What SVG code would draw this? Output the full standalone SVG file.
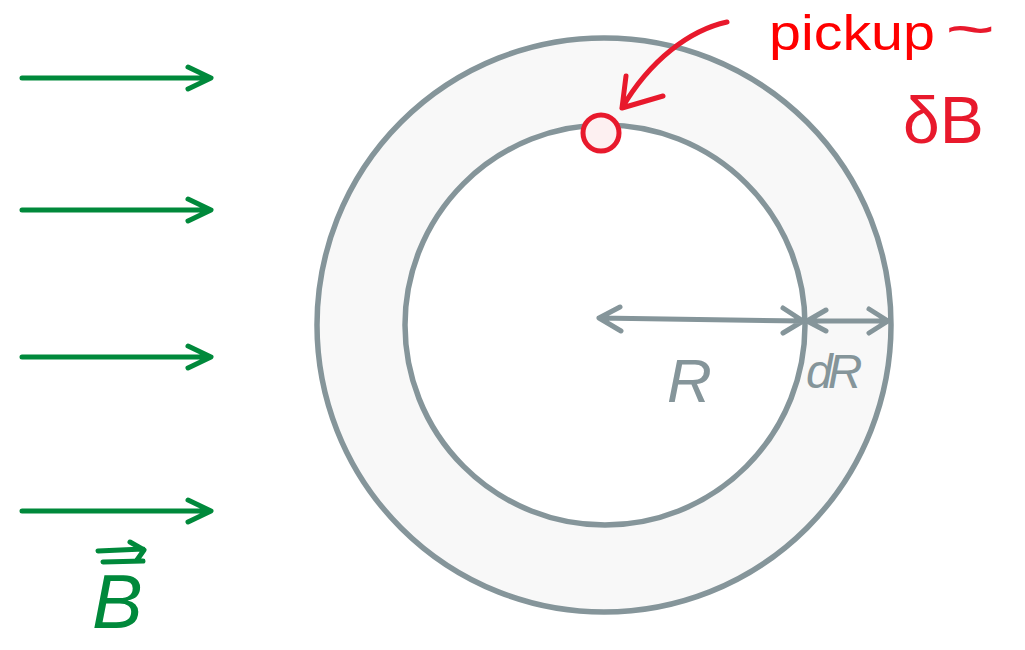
<svg xmlns="http://www.w3.org/2000/svg" width="1025" height="650" viewBox="0 0 1025 650">
<style>
.ring{stroke:#85959a;stroke-width:5.5}
.field{stroke:#00893b;stroke-width:5;fill:none;stroke-linecap:round;stroke-linejoin:round}
.dim{stroke:#85959a;stroke-width:5;fill:none;stroke-linecap:round;stroke-linejoin:round}
.red{stroke:#e8192c;stroke-width:5;fill:none;stroke-linecap:round;stroke-linejoin:round}
.hand{font-family:"Liberation Sans","DejaVu Sans",sans-serif}
</style>
<rect width="1025" height="650" fill="#ffffff"/>
<g id="ring">
<circle class="ring" cx="604" cy="325" r="287" fill="#f8f8f8"/>
<circle class="ring" cx="605" cy="325" r="200" fill="#ffffff"/>
</g>
<g id="pickup">
<circle cx="601" cy="133" r="18" fill="#fdf0f1" stroke="#e8192c" stroke-width="5"/>
</g>
<g id="connectors">
<g id="field-lines">
<path class="field" d="M22 78H210M188 67L211 78L188 89"/>
<path class="field" d="M22 210H210M188 199L211 210L188 221"/>
<path class="field" d="M22 357H210M188 346L211 357L188 368"/>
<path class="field" d="M22 511H210M188 500L211 511L188 522"/>
</g>
<g id="dims">
<path class="dim" d="M599 318L803 321M620 307L599 318L621 331M783 308L803 321L783 333"/>
<path class="dim" d="M807 321L888 321M826 310L807 321L826 331M869 309L888 321L869 333"/>
</g>
<path class="red" d="M727 22C690 30 650 60 622 108M626 76L622 108L663 96"/>
</g>
<g id="labels">
<text x="769" y="50" font-family="'Liberation Sans',sans-serif" font-size="50" fill="#ff0000" textLength="166" lengthAdjust="spacingAndGlyphs">pickup</text>
<text transform="translate(946,44) scale(2.3,1.2)" font-family="'Liberation Sans',sans-serif" font-weight="bold" font-size="36" fill="#e8192c">~</text>
<text x="903" y="143" class="hand" font-size="66" fill="#e8192c">δB</text>
<text x="667" y="402" class="hand" font-style="italic" font-size="62" fill="#85959a">R</text>
<text x="806" y="388" class="hand" font-style="italic" font-size="48" fill="#85959a" letter-spacing="-5">dR</text>
<text x="92" y="628" class="hand" font-style="italic" font-size="76" fill="#00893b">B</text>
<path class="field" d="M98 551L143 549M103 562L143 561M130 542L144 550L137 560" stroke-width="4"/>
</g>
</svg>
